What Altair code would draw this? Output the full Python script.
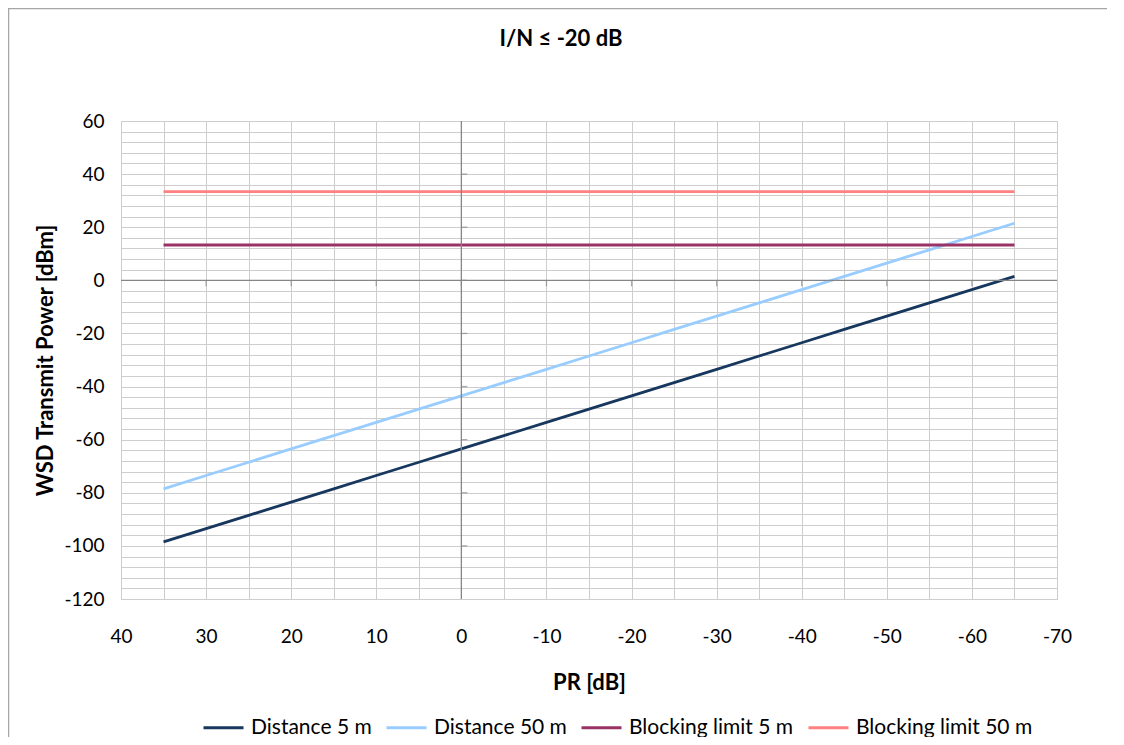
import altair as alt
import pandas as pd

# ---- data ----
pr_values = [35, 30, 25, 20, 15, 10, 5, 0, -5, -10, -15, -20, -25, -30, -35, -40, -45, -50, -55, -60, -65]
dist_5m = [-98.5, -93.5, -88.5, -83.5, -78.5, -73.5, -68.5, -63.5, -58.5, -53.5, -48.5,
           -43.5, -38.5, -33.5, -28.5, -23.5, -18.5, -13.5, -8.5, -3.5, 1.5]
dist_50m = [-78.5, -73.5, -68.5, -63.5, -58.5, -53.5, -48.5, -43.5, -38.5, -33.5, -28.5,
            -23.5, -18.5, -13.5, -8.5, -3.5, 1.5, 6.5, 11.5, 16.5, 21.5]
block_5m = [13.3] * len(pr_values)
block_50m = [33.4] * len(pr_values)

series_names = ["Distance 5 m", "Distance 50 m", "Blocking limit 5 m", "Blocking limit 50 m"]
series_colors = ["#17375E", "#99CCFF", "#993366", "#FF8080"]

x_tick_labels = [40, 30, 20, 10, 0, -10, -20, -30, -40, -50, -60, -70]
y_tick_labels = [-120, -100, -80, -60, -40, -20, 0, 20, 40, 60]
x_grid_values = [40, 35, 30, 25, 20, 15, 10, 5, 0, -5, -10, -15, -20, -25, -30, -35, -40, -45, -50, -55, -60, -65, -70]
y_grid_values = list(range(-120, 61, 4))

rows = []
for name, vals in zip(series_names, [dist_5m, dist_50m, block_5m, block_50m]):
    for p, v in zip(pr_values, vals):
        rows.append({"PR": p, "Power": v, "Series": name})
df = pd.DataFrame(rows)

W, H = 936, 478
FONT = "Lato"
MINUS = "\u2212"

xscale = alt.Scale(domain=[-70, 40], reverse=True, nice=False, zero=False)
yscale = alt.Scale(domain=[-120, 60], nice=False, zero=False)

xaxis = alt.Axis(values=x_grid_values,
                 labelExpr=f"datum.value % 10 == 0 ? replace(datum.label, '{MINUS}', '-') : ''",
                 grid=True, gridColor="#CDCDCD", gridWidth=1, ticks=False, domain=False,
                 labelFontSize=19, labelColor="#000", labelPadding=28, labelFont=FONT,
                 labelFlush=False, labelOverlap=False,
                 title="PR [dB]", titleFontSize=22, titleFont=FONT, titleFontWeight="bold",
                 titleColor="#000", titleY=83, titleBaseline="middle")
yaxis = alt.Axis(values=y_grid_values,
                 labelExpr=f"datum.value % 20 == 0 ? replace(datum.label, '{MINUS}', '-') : ''",
                 grid=True, gridColor="#CDCDCD", gridWidth=1, ticks=False, domain=False,
                 labelFontSize=19, labelColor="#000", labelPadding=17, labelFont=FONT,
                 labelFlush=False, labelOverlap=False,
                 title="WSD Transmit Power [dBm]", titleFontSize=22, titleFont=FONT,
                 titleFontWeight="bold", titleColor="#000", titleX=-76, titleBaseline="middle")


def X(field):
    return alt.X(field, scale=xscale, axis=xaxis)


def Y(field):
    return alt.Y(field, scale=yscale, axis=yaxis)


lines = alt.Chart(df).mark_line(strokeWidth=2.8, clip=True).encode(
    x=X("PR:Q"),
    y=Y("Power:Q"),
    color=alt.Color("Series:N",
                    scale=alt.Scale(domain=series_names, range=series_colors),
                    sort=series_names,
                    legend=alt.Legend(title=None, orient="none", direction="horizontal",
                                      legendX=81, legendY=585, symbolType="stroke",
                                      symbolSize=1600, symbolStrokeWidth=3, padding=0,
                                      labelFontSize=21, labelFont=FONT, labelColor="#000",
                                      labelLimit=400, labelOffset=6, columnPadding=8)),
    order=alt.Order("PR:Q", sort="descending"),
)

zero_df = pd.DataFrame({"PR": [0], "Power": [0]})
vline = alt.Chart(zero_df).mark_rule(color="#868686", strokeWidth=1.3).encode(x=X("PR:Q"))
hline = alt.Chart(zero_df).mark_rule(color="#868686", strokeWidth=1.3).encode(y=Y("Power:Q"))

xt_df = pd.DataFrame({"PR": x_tick_labels[1:-1], "Power": [0] * (len(x_tick_labels) - 2)})
xticks = alt.Chart(xt_df).mark_tick(orient="vertical", size=6, yOffset=3,
                                    color="#868686", thickness=1.3).encode(
    x=X("PR:Q"), y=Y("Power:Q"))
yt_df = pd.DataFrame({"Power": y_tick_labels[1:-1], "PR": [0] * (len(y_tick_labels) - 2)})
yticks = alt.Chart(yt_df).mark_tick(orient="horizontal", size=6, xOffset=3,
                                    color="#868686", thickness=1.3).encode(
    x=X("PR:Q"), y=Y("Power:Q"))

frame = alt.Chart(pd.DataFrame({"a": [0]})).mark_rect(
    fill="transparent", fillOpacity=0, stroke="#A6A6A6", strokeWidth=1.5, clip=False).encode(
    x=alt.value(-112.5), x2=alt.value(W + 200), y=alt.value(-112.5), y2=alt.value(H + 300))

chart = alt.layer(frame, lines, vline, hline, xticks, yticks).properties(
    width=W, height=H,
    title=alt.TitleParams("I/N ≤ -20 dB", fontSize=22, font=FONT, fontWeight="bold",
                          color="#000", anchor="middle", dx=-28, offset=-43),
    autosize=alt.AutoSizeParams(type="none"),
    padding={"left": 113, "top": 113, "right": 50, "bottom": 138},
).configure_view(stroke="#000", strokeWidth=1.5).configure(background="white")

chart.save("out.html", embed_options={"renderer": "svg", "actions": False})
